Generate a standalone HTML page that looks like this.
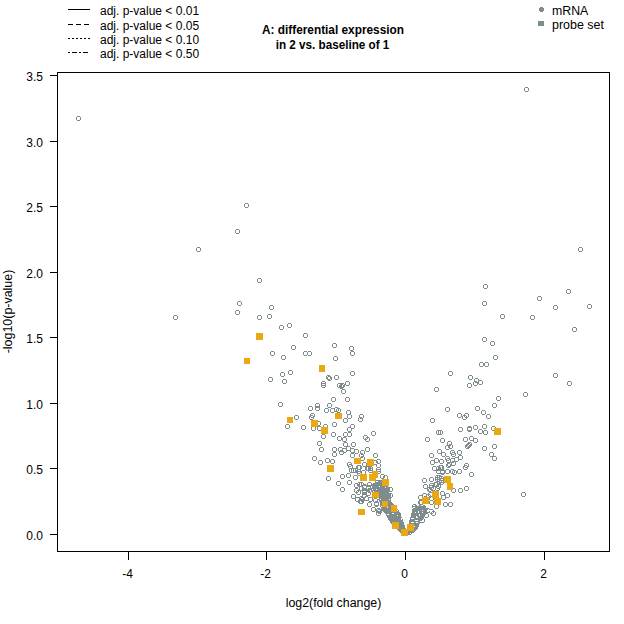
<!DOCTYPE html><html><head><meta charset="utf-8"><style>html,body{margin:0;padding:0;background:#fff;}svg{display:block;}text{font-family:"Liberation Sans",sans-serif;font-size:12px;fill:#000;}</style></head><body>
<svg width="624" height="624" viewBox="0 0 624 624">
<defs><path id="r" d="M-1 -2h3v1h-3zM-1 2h3v1h-3zM-2 -1h1v3h-1zM2 -1h1v3h-1z"/></defs>
<rect width="624" height="624" fill="#fff"/>
<g shape-rendering="crispEdges" fill="#000">
<rect x="68" y="9" width="22" height="1"/>
<rect x="68" y="24" width="5" height="1"/>
<rect x="76" y="24" width="5" height="1"/>
<rect x="84" y="24" width="5" height="1"/>
<rect x="68" y="38" width="2" height="1"/>
<rect x="72" y="38" width="2" height="1"/>
<rect x="76" y="38" width="2" height="1"/>
<rect x="80" y="38" width="2" height="1"/>
<rect x="84" y="38" width="2" height="1"/>
<rect x="88" y="38" width="2" height="1"/>
<rect x="68" y="52" width="2" height="1"/>
<rect x="72" y="52" width="5" height="1"/>
<rect x="79" y="52" width="2" height="1"/>
<rect x="83" y="52" width="5" height="1"/>
</g>
<text x="100" y="15">adj. p-value &lt; 0.01</text>
<text x="100" y="30">adj. p-value &lt; 0.05</text>
<text x="100" y="44">adj. p-value &lt; 0.10</text>
<text x="100" y="58">adj. p-value &lt; 0.50</text>
<text x="333" y="34" text-anchor="middle" font-weight="bold" textLength="142" lengthAdjust="spacingAndGlyphs">A: differential expression</text>
<text x="332.5" y="49" text-anchor="middle" font-weight="bold" textLength="113.7" lengthAdjust="spacingAndGlyphs">in 2 vs. baseline of 1</text>
<g shape-rendering="crispEdges" fill="#7f8c8d"><rect x="540" y="7" width="3" height="5"/><rect x="539" y="8" width="5" height="3"/><rect x="538" y="21" width="6" height="5"/></g>
<text x="552" y="15" textLength="36.3" lengthAdjust="spacingAndGlyphs">mRNA</text>
<text x="552" y="29" textLength="52" lengthAdjust="spacingAndGlyphs">probe set</text>
<g shape-rendering="crispEdges" fill="#000">
<rect x="57" y="72" width="553" height="1"/><rect x="57" y="551" width="553" height="1"/>
<rect x="57" y="72" width="1" height="480"/><rect x="609" y="72" width="1" height="480"/>
<rect x="50" y="534" width="7" height="1"/>
<rect x="50" y="468" width="7" height="1"/>
<rect x="50" y="403" width="7" height="1"/>
<rect x="50" y="337" width="7" height="1"/>
<rect x="50" y="272" width="7" height="1"/>
<rect x="50" y="206" width="7" height="1"/>
<rect x="50" y="141" width="7" height="1"/>
<rect x="50" y="75" width="7" height="1"/>
<rect x="128" y="551" width="1" height="9"/>
<rect x="266" y="551" width="1" height="9"/>
<rect x="405" y="551" width="1" height="9"/>
<rect x="544" y="551" width="1" height="9"/>
</g>
<text x="43" y="540" text-anchor="end">0.0</text>
<text x="43" y="474" text-anchor="end">0.5</text>
<text x="43" y="409" text-anchor="end">1.0</text>
<text x="43" y="343" text-anchor="end">1.5</text>
<text x="43" y="278" text-anchor="end">2.0</text>
<text x="43" y="212" text-anchor="end">2.5</text>
<text x="43" y="147" text-anchor="end">3.0</text>
<text x="43" y="81" text-anchor="end">3.5</text>
<text x="127.5" y="578" text-anchor="middle">-4</text>
<text x="265.5" y="578" text-anchor="middle">-2</text>
<text x="404.5" y="578" text-anchor="middle">0</text>
<text x="543.5" y="578" text-anchor="middle">2</text>
<text x="333.5" y="607" text-anchor="middle" textLength="95.7" lengthAdjust="spacingAndGlyphs">log2(fold change)</text>
<text transform="translate(12,311.5) rotate(-90)" text-anchor="middle" textLength="83.7" lengthAdjust="spacingAndGlyphs">-log10(p-value)</text>
<g shape-rendering="crispEdges" fill="#7f8c8d">
<polygon points="379,500 390,500 397,508 401,514 403,520 405,527 408,532 409,535 404,536 399,532 394,527 389,521 386,515 381,509"/>
<polygon points="414,505 425,505 428,510 425,516 421,522 418,528 413,533 410,535 406,534 407,529 409,522 411,516 412,511"/>
<use href="#r" x="78" y="118"/>
<use href="#r" x="246" y="205"/>
<use href="#r" x="237" y="231"/>
<use href="#r" x="198" y="249"/>
<use href="#r" x="259" y="280"/>
<use href="#r" x="239" y="303"/>
<use href="#r" x="237" y="312"/>
<use href="#r" x="271" y="307"/>
<use href="#r" x="175" y="317"/>
<use href="#r" x="259" y="317"/>
<use href="#r" x="269" y="316"/>
<use href="#r" x="281" y="327"/>
<use href="#r" x="289" y="325"/>
<use href="#r" x="305" y="335"/>
<use href="#r" x="293" y="347"/>
<use href="#r" x="334" y="345"/>
<use href="#r" x="351" y="348"/>
<use href="#r" x="352" y="353"/>
<use href="#r" x="272" y="353"/>
<use href="#r" x="283" y="357"/>
<use href="#r" x="305" y="353"/>
<use href="#r" x="309" y="353"/>
<use href="#r" x="335" y="358"/>
<use href="#r" x="526" y="89"/>
<use href="#r" x="580" y="249"/>
<use href="#r" x="485" y="286"/>
<use href="#r" x="484" y="303"/>
<use href="#r" x="502" y="316"/>
<use href="#r" x="532" y="317"/>
<use href="#r" x="539" y="298"/>
<use href="#r" x="568" y="291"/>
<use href="#r" x="555" y="307"/>
<use href="#r" x="589" y="306"/>
<use href="#r" x="574" y="329"/>
<use href="#r" x="484" y="339"/>
<use href="#r" x="492" y="343"/>
<use href="#r" x="495" y="357"/>
<use href="#r" x="555" y="375"/>
<use href="#r" x="569" y="383"/>
<use href="#r" x="525" y="394"/>
<use href="#r" x="523" y="494"/>
<use href="#r" x="481" y="364"/>
<use href="#r" x="486" y="364"/>
<use href="#r" x="450" y="373"/>
<use href="#r" x="470" y="377"/>
<use href="#r" x="476" y="380"/>
<use href="#r" x="475" y="383"/>
<use href="#r" x="480" y="382"/>
<use href="#r" x="469" y="385"/>
<use href="#r" x="436" y="389"/>
<use href="#r" x="498" y="398"/>
<use href="#r" x="494" y="405"/>
<use href="#r" x="447" y="409"/>
<use href="#r" x="477" y="408"/>
<use href="#r" x="483" y="412"/>
<use href="#r" x="488" y="416"/>
<use href="#r" x="459" y="415"/>
<use href="#r" x="464" y="417"/>
<use href="#r" x="466" y="415"/>
<use href="#r" x="432" y="420"/>
<use href="#r" x="460" y="429"/>
<use href="#r" x="469" y="428"/>
<use href="#r" x="469" y="429"/>
<use href="#r" x="475" y="427"/>
<use href="#r" x="484" y="426"/>
<use href="#r" x="480" y="431"/>
<use href="#r" x="485" y="432"/>
<use href="#r" x="493" y="428"/>
<use href="#r" x="438" y="432"/>
<use href="#r" x="440" y="432"/>
<use href="#r" x="442" y="440"/>
<use href="#r" x="449" y="443"/>
<use href="#r" x="447" y="447"/>
<use href="#r" x="450" y="446"/>
<use href="#r" x="465" y="439"/>
<use href="#r" x="471" y="438"/>
<use href="#r" x="475" y="440"/>
<use href="#r" x="467" y="446"/>
<use href="#r" x="468" y="445"/>
<use href="#r" x="469" y="444"/>
<use href="#r" x="484" y="448"/>
<use href="#r" x="494" y="446"/>
<use href="#r" x="439" y="451"/>
<use href="#r" x="452" y="452"/>
<use href="#r" x="453" y="454"/>
<use href="#r" x="459" y="452"/>
<use href="#r" x="491" y="454"/>
<use href="#r" x="494" y="458"/>
<use href="#r" x="431" y="455"/>
<use href="#r" x="270" y="379"/>
<use href="#r" x="282" y="374"/>
<use href="#r" x="290" y="372"/>
<use href="#r" x="284" y="381"/>
<use href="#r" x="280" y="404"/>
<use href="#r" x="296" y="417"/>
<use href="#r" x="328" y="377"/>
<use href="#r" x="329" y="378"/>
<use href="#r" x="336" y="377"/>
<use href="#r" x="323" y="383"/>
<use href="#r" x="323" y="385"/>
<use href="#r" x="339" y="385"/>
<use href="#r" x="341" y="386"/>
<use href="#r" x="342" y="385"/>
<use href="#r" x="347" y="383"/>
<use href="#r" x="343" y="391"/>
<use href="#r" x="333" y="399"/>
<use href="#r" x="347" y="399"/>
<use href="#r" x="317" y="405"/>
<use href="#r" x="317" y="408"/>
<use href="#r" x="310" y="408"/>
<use href="#r" x="329" y="405"/>
<use href="#r" x="326" y="410"/>
<use href="#r" x="332" y="410"/>
<use href="#r" x="336" y="409"/>
<use href="#r" x="338" y="410"/>
<use href="#r" x="348" y="412"/>
<use href="#r" x="349" y="416"/>
<use href="#r" x="312" y="415"/>
<use href="#r" x="311" y="417"/>
<use href="#r" x="345" y="420"/>
<use href="#r" x="352" y="373"/>
<use href="#r" x="361" y="416"/>
<use href="#r" x="360" y="419"/>
<use href="#r" x="318" y="423"/>
<use href="#r" x="303" y="427"/>
<use href="#r" x="313" y="428"/>
<use href="#r" x="319" y="428"/>
<use href="#r" x="325" y="426"/>
<use href="#r" x="323" y="436"/>
<use href="#r" x="334" y="424"/>
<use href="#r" x="333" y="434"/>
<use href="#r" x="352" y="426"/>
<use href="#r" x="349" y="429"/>
<use href="#r" x="345" y="434"/>
<use href="#r" x="349" y="434"/>
<use href="#r" x="339" y="438"/>
<use href="#r" x="344" y="439"/>
<use href="#r" x="345" y="444"/>
<use href="#r" x="353" y="444"/>
<use href="#r" x="319" y="443"/>
<use href="#r" x="321" y="449"/>
<use href="#r" x="334" y="449"/>
<use href="#r" x="334" y="454"/>
<use href="#r" x="340" y="449"/>
<use href="#r" x="341" y="452"/>
<use href="#r" x="344" y="450"/>
<use href="#r" x="348" y="448"/>
<use href="#r" x="352" y="450"/>
<use href="#r" x="356" y="451"/>
<use href="#r" x="352" y="455"/>
<use href="#r" x="314" y="458"/>
<use href="#r" x="320" y="462"/>
<use href="#r" x="327" y="460"/>
<use href="#r" x="332" y="461"/>
<use href="#r" x="287" y="426"/>
<use href="#r" x="373" y="433"/>
<use href="#r" x="365" y="437"/>
<use href="#r" x="367" y="439"/>
<use href="#r" x="367" y="449"/>
<use href="#r" x="362" y="452"/>
<use href="#r" x="361" y="455"/>
<use href="#r" x="362" y="458"/>
<use href="#r" x="375" y="455"/>
<use href="#r" x="364" y="464"/>
<use href="#r" x="375" y="462"/>
<use href="#r" x="378" y="461"/>
<use href="#r" x="378" y="465"/>
<use href="#r" x="370" y="468"/>
<use href="#r" x="378" y="469"/>
<use href="#r" x="427" y="439"/>
<use href="#r" x="443" y="454"/>
<use href="#r" x="436" y="460"/>
<use href="#r" x="432" y="462"/>
<use href="#r" x="441" y="461"/>
<use href="#r" x="447" y="458"/>
<use href="#r" x="448" y="460"/>
<use href="#r" x="452" y="460"/>
<use href="#r" x="453" y="463"/>
<use href="#r" x="456" y="459"/>
<use href="#r" x="460" y="457"/>
<use href="#r" x="449" y="464"/>
<use href="#r" x="448" y="465"/>
<use href="#r" x="434" y="468"/>
<use href="#r" x="438" y="468"/>
<use href="#r" x="440" y="467"/>
<use href="#r" x="465" y="467"/>
<use href="#r" x="466" y="465"/>
<use href="#r" x="328" y="478"/>
<use href="#r" x="342" y="476"/>
<use href="#r" x="348" y="475"/>
<use href="#r" x="338" y="483"/>
<use href="#r" x="349" y="482"/>
<use href="#r" x="342" y="489"/>
<use href="#r" x="349" y="464"/>
<use href="#r" x="350" y="466"/>
<use href="#r" x="351" y="470"/>
<use href="#r" x="353" y="470"/>
<use href="#r" x="355" y="470"/>
<use href="#r" x="355" y="477"/>
<use href="#r" x="358" y="467"/>
<use href="#r" x="358" y="471"/>
<use href="#r" x="359" y="473"/>
<use href="#r" x="356" y="485"/>
<use href="#r" x="359" y="484"/>
<use href="#r" x="356" y="490"/>
<use href="#r" x="358" y="492"/>
<use href="#r" x="353" y="496"/>
<use href="#r" x="357" y="499"/>
<use href="#r" x="360" y="501"/>
<use href="#r" x="367" y="468"/>
<use href="#r" x="361" y="484"/>
<use href="#r" x="361" y="488"/>
<use href="#r" x="364" y="486"/>
<use href="#r" x="364" y="490"/>
<use href="#r" x="368" y="488"/>
<use href="#r" x="369" y="484"/>
<use href="#r" x="361" y="498"/>
<use href="#r" x="364" y="495"/>
<use href="#r" x="368" y="493"/>
<use href="#r" x="378" y="471"/>
<use href="#r" x="382" y="476"/>
<use href="#r" x="385" y="477"/>
<use href="#r" x="390" y="489"/>
<use href="#r" x="390" y="495"/>
<use href="#r" x="362" y="499"/>
<use href="#r" x="366" y="498"/>
<use href="#r" x="370" y="499"/>
<use href="#r" x="369" y="504"/>
<use href="#r" x="373" y="509"/>
<use href="#r" x="375" y="500"/>
<use href="#r" x="376" y="504"/>
<use href="#r" x="378" y="510"/>
<use href="#r" x="378" y="513"/>
<use href="#r" x="441" y="467"/>
<use href="#r" x="438" y="471"/>
<use href="#r" x="442" y="471"/>
<use href="#r" x="424" y="480"/>
<use href="#r" x="431" y="479"/>
<use href="#r" x="439" y="477"/>
<use href="#r" x="437" y="479"/>
<use href="#r" x="441" y="480"/>
<use href="#r" x="425" y="486"/>
<use href="#r" x="431" y="485"/>
<use href="#r" x="435" y="484"/>
<use href="#r" x="438" y="486"/>
<use href="#r" x="429" y="489"/>
<use href="#r" x="433" y="488"/>
<use href="#r" x="420" y="497"/>
<use href="#r" x="424" y="495"/>
<use href="#r" x="442" y="493"/>
<use href="#r" x="443" y="497"/>
<use href="#r" x="420" y="502"/>
<use href="#r" x="431" y="498"/>
<use href="#r" x="431" y="502"/>
<use href="#r" x="471" y="474"/>
<use href="#r" x="459" y="471"/>
<use href="#r" x="454" y="472"/>
<use href="#r" x="452" y="471"/>
<use href="#r" x="447" y="471"/>
<use href="#r" x="442" y="472"/>
<use href="#r" x="466" y="488"/>
<use href="#r" x="460" y="490"/>
<use href="#r" x="453" y="490"/>
<use href="#r" x="447" y="495"/>
<use href="#r" x="441" y="478"/>
<use href="#r" x="441" y="482"/>
<use href="#r" x="445" y="504"/>
<use href="#r" x="450" y="504"/>
<use href="#r" x="359" y="467"/>
<use href="#r" x="363" y="472"/>
<use href="#r" x="368" y="468"/>
<use href="#r" x="370" y="470"/>
<use href="#r" x="361" y="501"/>
<use href="#r" x="364" y="492"/>
<use href="#r" x="364" y="487"/>
<use href="#r" x="369" y="490"/>
<use href="#r" x="368" y="487"/>
<use href="#r" x="372" y="486"/>
<use href="#r" x="376" y="503"/>
<use href="#r" x="379" y="511"/>
<use href="#r" x="414" y="506"/>
<use href="#r" x="413" y="514"/>
<use href="#r" x="433" y="513"/>
<use href="#r" x="436" y="506"/>
<use href="#r" x="431" y="511"/>
<use href="#r" x="427" y="510"/>
<use href="#r" x="426" y="515"/>
<use href="#r" x="422" y="520"/>
<use href="#r" x="415" y="510"/>
<use href="#r" x="419" y="509"/>
<use href="#r" x="421" y="506"/>
<use href="#r" x="421" y="502"/>
<use href="#r" x="424" y="500"/>
<use href="#r" x="425" y="498"/>
<use href="#r" x="428" y="496"/>
<use href="#r" x="430" y="494"/>
<use href="#r" x="430" y="490"/>
<use href="#r" x="431" y="487"/>
<use href="#r" x="437" y="488"/>
<use href="#r" x="436" y="484"/>
<use href="#r" x="439" y="481"/>
<use href="#r" x="437" y="477"/>
<use href="#r" x="380" y="491"/>
<use href="#r" x="381" y="492"/>
<use href="#r" x="376" y="490"/>
<use href="#r" x="382" y="495"/>
<use href="#r" x="374" y="486"/>
<use href="#r" x="383" y="482"/>
<use href="#r" x="388" y="498"/>
<use href="#r" x="383" y="492"/>
<use href="#r" x="381" y="482"/>
<use href="#r" x="376" y="485"/>
<use href="#r" x="380" y="496"/>
<use href="#r" x="381" y="493"/>
<use href="#r" x="380" y="493"/>
<use href="#r" x="380" y="486"/>
<use href="#r" x="388" y="499"/>
<use href="#r" x="386" y="494"/>
<use href="#r" x="378" y="485"/>
<use href="#r" x="384" y="488"/>
<use href="#r" x="386" y="488"/>
<use href="#r" x="387" y="496"/>
<use href="#r" x="387" y="489"/>
<use href="#r" x="385" y="486"/>
<use href="#r" x="374" y="487"/>
<use href="#r" x="387" y="495"/>
<use href="#r" x="375" y="485"/>
<use href="#r" x="385" y="484"/>
<use href="#r" x="381" y="489"/>
<use href="#r" x="375" y="493"/>
<use href="#r" x="375" y="489"/>
<use href="#r" x="376" y="486"/>
<use href="#r" x="388" y="495"/>
<use href="#r" x="376" y="488"/>
<use href="#r" x="386" y="493"/>
<use href="#r" x="376" y="486"/>
<use href="#r" x="385" y="487"/>
<use href="#r" x="377" y="482"/>
<use href="#r" x="374" y="491"/>
<use href="#r" x="377" y="492"/>
<use href="#r" x="379" y="489"/>
<use href="#r" x="382" y="497"/>
<use href="#r" x="376" y="484"/>
<use href="#r" x="387" y="496"/>
<use href="#r" x="377" y="484"/>
<use href="#r" x="384" y="498"/>
<use href="#r" x="386" y="492"/>
<use href="#r" x="379" y="483"/>
<use href="#r" x="377" y="494"/>
<use href="#r" x="382" y="486"/>
<use href="#r" x="374" y="485"/>
<use href="#r" x="381" y="496"/>
<use href="#r" x="382" y="486"/>
<use href="#r" x="380" y="482"/>
<use href="#r" x="376" y="488"/>
<use href="#r" x="382" y="483"/>
<use href="#r" x="378" y="497"/>
<use href="#r" x="383" y="492"/>
<use href="#r" x="384" y="498"/>
<use href="#r" x="380" y="494"/>
<use href="#r" x="374" y="491"/>
<use href="#r" x="384" y="497"/>
<use href="#r" x="384" y="494"/>
<use href="#r" x="385" y="497"/>
<use href="#r" x="378" y="493"/>
<use href="#r" x="387" y="497"/>
<use href="#r" x="379" y="495"/>
<use href="#r" x="386" y="491"/>
<use href="#r" x="382" y="488"/>
<use href="#r" x="382" y="492"/>
<use href="#r" x="384" y="488"/>
<use href="#r" x="384" y="491"/>
<use href="#r" x="380" y="496"/>
</g>
<g shape-rendering="crispEdges" fill="#fff">
<rect x="387" y="506" width="1" height="2"/>
<rect x="397" y="510" width="1" height="1"/>
<rect x="381" y="506" width="2" height="1"/>
<rect x="392" y="513" width="2" height="1"/>
<rect x="389" y="521" width="1" height="2"/>
<rect x="392" y="505" width="3" height="1"/>
<rect x="391" y="505" width="2" height="1"/>
<rect x="397" y="515" width="1" height="1"/>
<rect x="385" y="506" width="1" height="1"/>
<rect x="401" y="518" width="1" height="2"/>
<rect x="401" y="516" width="2" height="1"/>
<rect x="387" y="514" width="2" height="1"/>
<rect x="397" y="515" width="1" height="1"/>
<rect x="411" y="518" width="3" height="1"/>
<rect x="415" y="520" width="2" height="1"/>
<rect x="422" y="510" width="1" height="1"/>
<rect x="422" y="512" width="1" height="1"/>
<rect x="413" y="527" width="1" height="1"/>
<rect x="419" y="524" width="2" height="1"/>
<rect x="416" y="522" width="2" height="1"/>
<rect x="417" y="505" width="2" height="1"/>
<rect x="411" y="522" width="3" height="1"/>
<rect x="416" y="517" width="2" height="1"/>
<rect x="413" y="507" width="2" height="1"/>
<rect x="412" y="526" width="3" height="1"/>
<rect x="418" y="511" width="1" height="2"/>
<rect x="410" y="533" width="1" height="1"/>
<rect x="419" y="514" width="1" height="2"/>
<rect x="420" y="521" width="2" height="1"/>
<rect x="416" y="520" width="2" height="1"/>
<rect x="414" y="505" width="1" height="1"/>
<rect x="411" y="527" width="3" height="1"/>
<rect x="421" y="505" width="2" height="1"/>
<rect x="422" y="512" width="1" height="1"/>
<rect x="427" y="510" width="3" height="1"/>
<rect x="416" y="516" width="1" height="1"/>
<rect x="415" y="512" width="1" height="1"/>
<rect x="411" y="529" width="2" height="1"/>
</g>
<g shape-rendering="crispEdges" fill="#eaa913">
<rect x="256" y="333" width="7" height="7"/>
<rect x="244" y="358" width="6" height="6"/>
<rect x="319" y="365" width="6" height="7"/>
<rect x="287" y="417" width="6" height="6"/>
<rect x="311" y="420" width="7" height="7"/>
<rect x="321" y="427" width="7" height="7"/>
<rect x="335" y="413" width="7" height="6"/>
<rect x="327" y="465" width="7" height="7"/>
<rect x="354" y="458" width="7" height="6"/>
<rect x="367" y="459" width="7" height="7"/>
<rect x="360" y="474" width="7" height="7"/>
<rect x="369" y="474" width="7" height="7"/>
<rect x="372" y="471" width="6" height="7"/>
<rect x="382" y="479" width="7" height="7"/>
<rect x="372" y="492" width="7" height="6"/>
<rect x="358" y="509" width="7" height="6"/>
<rect x="382" y="501" width="6" height="6"/>
<rect x="391" y="505" width="6" height="7"/>
<rect x="392" y="522" width="7" height="7"/>
<rect x="401" y="529" width="7" height="7"/>
<rect x="407" y="524" width="7" height="7"/>
<rect x="422" y="497" width="7" height="7"/>
<rect x="432" y="491" width="7" height="7"/>
<rect x="434" y="498" width="7" height="7"/>
<rect x="444" y="476" width="7" height="7"/>
<rect x="447" y="483" width="6" height="7"/>
<rect x="494" y="428" width="7" height="7"/>
</g>
</svg></body></html>
